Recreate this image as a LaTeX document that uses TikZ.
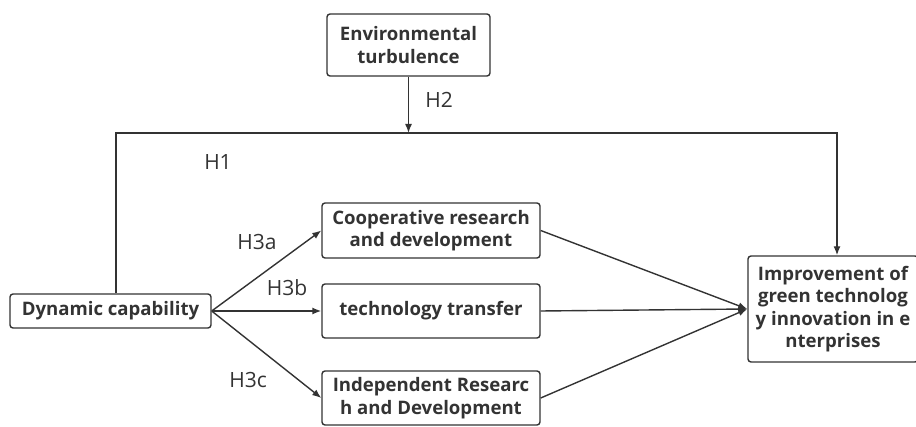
\documentclass[tikz,border=0pt]{standalone}
\usepackage{fontspec}
\setmainfont{Open Sans}
\usetikzlibrary{arrows.meta}
\definecolor{ink}{HTML}{333333}
\begin{document}
\begin{tikzpicture}[x=1pt,y=-1pt,
 box/.style={draw=ink, line width=1.4pt, rounded corners=3pt, text=ink, font=\fontsize{18.6}{22.5}\selectfont\bfseries, align=center, inner sep=0pt},
 lab/.style={text=ink, font=\fontsize{21}{24}\selectfont},
 conn/.style={draw=ink, line width=1.4pt},
 arr/.style={conn, -{Latex[length=9pt,width=7pt]}}]
\useasboundingbox (0,0) rectangle (916,427);
\node[box, minimum width=163pt, minimum height=62pt] (env) at (408.5,45) {Environmental\\turbulence};
\node[box, minimum width=201pt, minimum height=34pt] (dyn) at (110.5,311) {Dynamic capability};
\node[box, minimum width=218pt, minimum height=55pt] (coop) at (431,230.5) {Cooperative research\\and development};
\node[box, minimum width=218pt, minimum height=54pt] (tech) at (431,311) {technology transfer};
\node[box, minimum width=218pt, minimum height=54pt] (indep) at (431,398) {Independent Researc\\h and Development};
\node[box, minimum width=170pt, minimum height=106pt] (imp) at (833,309) {Improvement of\\green technolog\\y innovation in e\\nterprises};
\coordinate (tl) at (116,133);
\coordinate (tr) at (837,133);
\draw[arr] (tl |- dyn.north) -- (tl) -- (tr) -- (tr |- imp.north);
\draw[arr] (env.south) -- (env.south |- tl);
\draw[arr] (dyn.east) -- (coop.west);
\draw[arr] (dyn.east) -- (tech.west);
\draw[arr] (dyn.east) -- (indep.west);
\draw[arr] (coop.east) -- (imp.west);
\draw[arr] (tech.east) -- (imp.west);
\draw[arr] (indep.east) -- (imp.west);
\node[lab] (h2) at (439,100) {H2};
\node[lab] (h1) at (218,162) {H1};
\node[lab] (h3a) at (257,242) {H3a};
\node[lab] (h3b) at (287,288) {H3b};
\node[lab] (h3c) at (248,380) {H3c};
\end{tikzpicture}
\end{document}
